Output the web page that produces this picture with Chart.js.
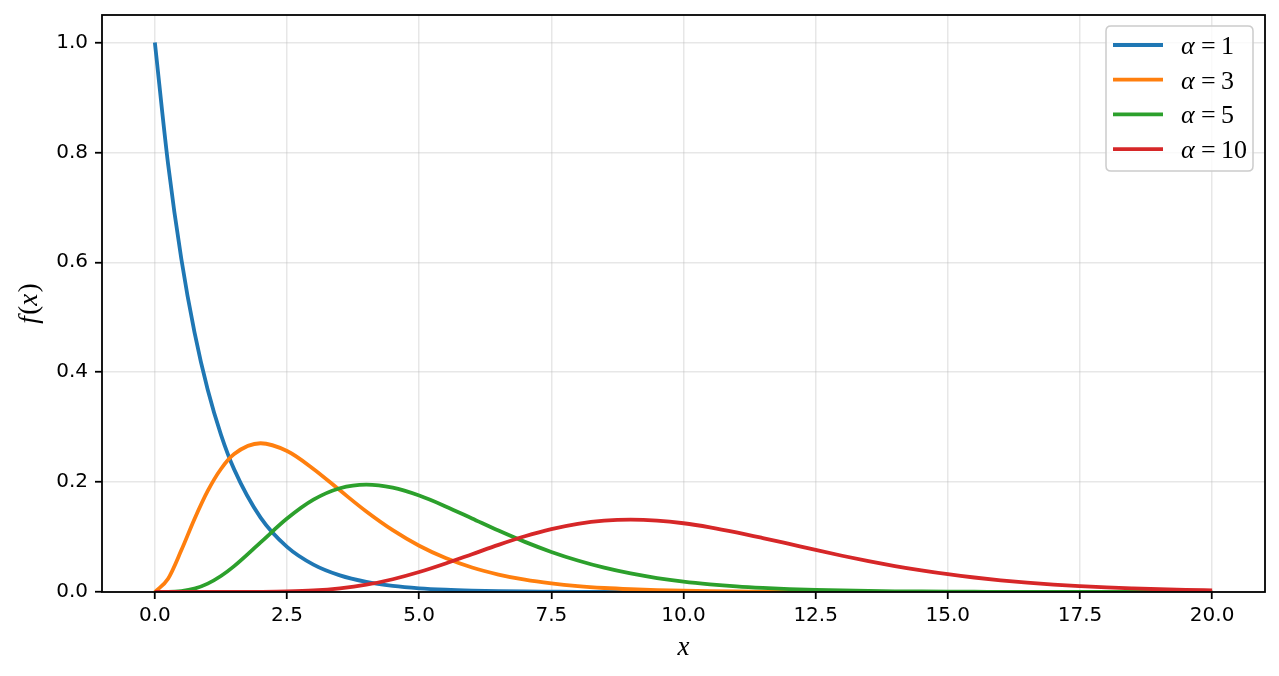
<!DOCTYPE html>
<html>
<head>
<meta charset="utf-8">
<script src="https://cdn.jsdelivr.net/npm/chart.js@4/dist/chart.umd.min.js"></script>
<style>
html,body{margin:0;padding:0;background:#fff;}
#wrap{width:1279px;height:676px;}
</style>
</head>
<body>
<div id="wrap"><canvas id="c" width="1279" height="676"></canvas></div>
<script>
// ---- data ----
const xValues = [0,0.25,0.5,0.75,1,1.25,1.5,2,2.5,3,3.5,4,4.5,5,5.5,6,6.5,7,7.5,8,8.5,9,9.5,10,10.5,11,11.5,12,12.5,13,13.5,14,14.5,15,15.5,16,16.5,17,17.5,18,18.5,19,19.5,20];
const alpha1 = [1,0.7788,0.6065,0.4724,0.3679,0.2865,0.2231,0.1353,0.0821,0.0498,0.0302,0.0183,0.0111,0.0067,0.0041,0.0025,0.0015,0.0009,0.0006,0.0003,0.0002,0.0001,0.0001,0,0,0,0,0,0,0,0,0,0,0,0,0,0,0,0,0,0,0,0,0];
const alpha3 = [0,0.0243,0.0758,0.1329,0.1839,0.2238,0.2510,0.2707,0.2565,0.2240,0.1850,0.1465,0.1125,0.0842,0.0618,0.0446,0.0318,0.0223,0.0156,0.0107,0.0073,0.0050,0.0034,0.0023,0.0015,0.0010,0.0007,0.0004,0.0003,0.0002,0.0001,0.0001,0,0,0,0,0,0,0,0,0,0,0,0];
const alpha5 = [0,0.0001,0.0016,0.0062,0.0153,0.0291,0.0471,0.0902,0.1336,0.1680,0.1888,0.1954,0.1898,0.1755,0.1558,0.1339,0.1118,0.0912,0.0729,0.0573,0.0442,0.0337,0.0254,0.0189,0.0140,0.0102,0.0074,0.0053,0.0038,0.0027,0.0019,0.0013,0.0009,0.0006,0.0005,0.0003,0.0002,0.0001,0.0001,0.0001,0,0,0,0];
const alpha10 = [0,0,0,0,0,0,0,0.0002,0.0009,0.0027,0.0066,0.0132,0.0232,0.0363,0.0519,0.0688,0.0858,0.1014,0.1144,0.1241,0.1299,0.1318,0.1300,0.1251,0.1177,0.1085,0.0982,0.0874,0.0765,0.0660,0.0562,0.0473,0.0394,0.0324,0.0264,0.0213,0.0171,0.0135,0.0107,0.0083,0.0065,0.0050,0.0038,0.0029];
const seriesLabels = ['1','3','5','10'];
const xTicks = [0,2.5,5,7.5,10,12.5,15,17.5,20];
const yTicks = [0,0.2,0.4,0.6,0.8,1.0];
const xLabel = 'x';
const yLabelParts = [['f',true],['(',false],['x',true],[')',false]];

const colors = ['#1f77b4','#ff7f0e','#2ca02c','#d62728'];
const seriesValues = [alpha1, alpha3, alpha5, alpha10];

const datasets = seriesValues.map((vals, i) => ({
  label: 'α = ' + seriesLabels[i],
  data: xValues.map((x, j) => ({x: x, y: vals[j]})),
  borderColor: colors[i],
  backgroundColor: colors[i],
  borderWidth: 3.8,
  pointRadius: 0,
  fill: false,
  cubicInterpolationMode: 'monotone',
  order: seriesValues.length - i
}));

const tickFont = {family: 'DejaVu Sans', size: 20};
const mathFont = 'Liberation Serif';

const decorPlugin = {
  id: 'decor',
  afterDraw(chart) {
    const ctx = chart.ctx;
    const a = chart.chartArea;
    ctx.save();
    // axes box
    ctx.strokeStyle = '#000';
    ctx.lineWidth = 1.8;
    ctx.strokeRect(a.left, a.top, a.right - a.left, a.bottom - a.top);

    // x label
    ctx.fillStyle = '#000';
    ctx.font = 'italic 27px "' + mathFont + '"';
    ctx.textAlign = 'center';
    ctx.textBaseline = 'alphabetic';
    ctx.fillText(xLabel, (a.left + a.right) / 2, 655);

    // y label (rotated)
    ctx.save();
    ctx.translate(37, (a.top + a.bottom) / 2);
    ctx.rotate(-Math.PI / 2);
    ctx.textAlign = 'left';
    let total = 0;
    const widths = yLabelParts.map(([t, it]) => {
      ctx.font = (it ? 'italic ' : '') + '27px "' + mathFont + '"';
      const w = ctx.measureText(t).width + (it ? 1.5 : 0);
      total += w;
      return w;
    });
    let px = -total / 2;
    yLabelParts.forEach(([t, it], k) => {
      ctx.font = (it ? 'italic ' : '') + '27px "' + mathFont + '"';
      ctx.fillText(t, px, 0);
      px += widths[k];
    });
    ctx.restore();

    // legend
    const lx = 1106, ly = 26, lw = 147, lh = 145, r = 5;
    ctx.beginPath();
    ctx.moveTo(lx + r, ly);
    ctx.lineTo(lx + lw - r, ly);
    ctx.quadraticCurveTo(lx + lw, ly, lx + lw, ly + r);
    ctx.lineTo(lx + lw, ly + lh - r);
    ctx.quadraticCurveTo(lx + lw, ly + lh, lx + lw - r, ly + lh);
    ctx.lineTo(lx + r, ly + lh);
    ctx.quadraticCurveTo(lx, ly + lh, lx, ly + lh - r);
    ctx.lineTo(lx, ly + r);
    ctx.quadraticCurveTo(lx, ly, lx + r, ly);
    ctx.closePath();
    ctx.fillStyle = 'rgba(255,255,255,0.8)';
    ctx.fill();
    ctx.strokeStyle = '#cccccc';
    ctx.lineWidth = 1.5;
    ctx.stroke();

    chart.data.datasets.forEach((ds, i) => {
      const y = 45 + i * 34.7;
      ctx.strokeStyle = ds.borderColor;
      ctx.lineWidth = 3.8;
      ctx.beginPath();
      ctx.moveTo(1113, y);
      ctx.lineTo(1163, y);
      ctx.stroke();
      ctx.fillStyle = '#000';
      ctx.textAlign = 'left';
      ctx.textBaseline = 'alphabetic';
      ctx.font = 'italic 26px "' + mathFont + '"';
      ctx.fillText('α', 1181, y + 9);
      ctx.font = '26px "' + mathFont + '"';
      ctx.fillText('=', 1201, y + 9);
      ctx.fillText(seriesLabels[i], 1221, y + 9);
    });
    ctx.restore();
  }
};

new Chart(document.getElementById('c'), {
  type: 'line',
  data: {datasets: datasets},
  options: {
    responsive: false,
    devicePixelRatio: 1,
    animation: false,
    layout: {padding: {left: 0, right: 14, top: 15, bottom: 0}},
    plugins: {legend: {display: false}, tooltip: {enabled: false}},
    scales: {
      x: {
        type: 'linear',
        min: -1,
        max: 21,
        afterBuildTicks: s => { s.ticks = xTicks.map(v => ({value: v})); },
        afterFit: s => { s.height = 84; s.paddingLeft = 0; s.paddingRight = 0; s.paddingTop = 0; s.paddingBottom = 0; },
        grid: {color: 'rgba(176,176,176,0.3)', lineWidth: 1.5, drawTicks: true, tickLength: 7, tickColor: '#000', tickWidth: 1.8},
        border: {display: false},
        ticks: {color: '#000', font: tickFont, padding: 5, maxRotation: 0, autoSkip: false, callback: v => Number(v).toFixed(1)}
      },
      y: {
        type: 'linear',
        min: 0,
        max: 1.05,
        afterBuildTicks: s => { s.ticks = yTicks.map(v => ({value: v})); },
        afterFit: s => { s.width = 102; s.paddingLeft = 0; s.paddingRight = 0; s.paddingTop = 0; s.paddingBottom = 0; },
        grid: {color: 'rgba(176,176,176,0.3)', lineWidth: 1.5, drawTicks: true, tickLength: 7, tickColor: '#000', tickWidth: 1.8},
        border: {display: false},
        ticks: {color: '#000', font: tickFont, padding: 7, autoSkip: false, callback: v => Number(v).toFixed(1)}
      }
    }
  },
  plugins: [decorPlugin]
});
</script>
</body>
</html>
